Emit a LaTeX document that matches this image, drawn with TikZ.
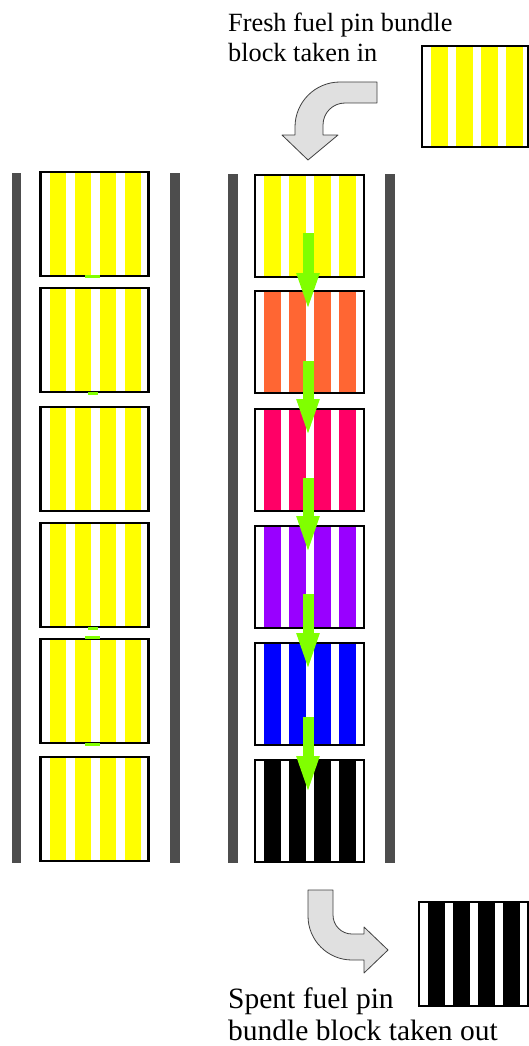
\documentclass[tikz,border=0pt]{standalone}
\usepackage{fontspec}
\setmainfont{Liberation Serif}
\usetikzlibrary{arrows.meta}
\definecolor{pinyellow}{RGB}{255,255,0}
\definecolor{pinorange}{RGB}{255,102,51}
\definecolor{pinpink}{RGB}{255,0,102}
\definecolor{pinpurple}{RGB}{153,0,255}
\definecolor{pinblue}{RGB}{0,0,255}
\definecolor{flowgreen}{RGB}{128,255,0}
\definecolor{wallgray}{RGB}{77,77,77}
\definecolor{movegray}{RGB}{224,224,224}

\begin{document}
\begin{tikzpicture}[x=1pt, y=-1pt,
  pinblock/.style={draw=black, line width=2.4pt, fill=white, inner sep=0pt,
    minimum width=109pt, minimum height=102pt,
    path picture={
      \foreach \k in {0,...,3}{
        \pgfmathsetmacro\xa{9+25*\k}
        \pgfmathsetmacro\xb{25.5+25*\k}
        \fill[#1] ([xshift=\xa pt, yshift=1.2pt]path picture bounding box.south west)
          rectangle ([xshift=\xb pt, yshift=-1.2pt]path picture bounding box.north west);
      }}},
  flowarrow/.style={draw=flowgreen, line width=11pt, -{Triangle[width=20pt, length=39pt]}},
  movearrow/.style={fill=movegray, draw=black!75, line width=0.8pt, line join=round},
  caption/.style={anchor=base west, align=left, inner sep=0pt}]
  \useasboundingbox (0,0) rectangle (529,1046);
  % Channel walls
  \fill[wallgray] (12,173) rectangle (21,863);
  \fill[wallgray] (170,173) rectangle (180,863);
  \fill[wallgray] (228,174) rectangle (238,863);
  \fill[wallgray] (385,174) rectangle (395,863);
  % Left channel: all fresh blocks
  \foreach \i/\yc in {1/224, 2/340, 3/459, 4/575, 5/691, 6/809}
    \node[pinblock=pinyellow, minimum width=108pt, minimum height=104pt] (l\i) at (94.5,\yc) {};
  \foreach \xa/\xb/\ya/\yb in {85/100/275/278, 88/98/392/395, 88/98/627/630, 85/100/636/639, 85/100/743/746}
    \fill[flowgreen] (\xa,\ya) rectangle (\xb,\yb);
  % Right channel: burn-up from top to bottom
  \foreach \i/\yc/\col in {1/226/pinyellow, 2/342/pinorange, 3/460/pinpink,
      4/577/pinpurple, 5/694/pinblue, 6/811/black}
    \node[pinblock=\col] (r\i) at (309.5,\yc) {};
  \foreach \s/\t in {233/312, 361/438, 478/555, 594/672, 717/795}
    \draw[flowarrow] (308,\s) -- (308,\t);
  % Loading
  \node[pinblock=pinyellow, minimum width=106pt, minimum height=101pt] (fresh) at (475,96.5) {};
  \node[caption, font=\fontsize{26.3}{30}\selectfont] (freshtext) at (228,62) {Fresh fuel pin bundle\\block taken in};
  \draw[movearrow] (377,82) -- (340,82) .. controls (315.1,82) and (295,102.1) .. (295,127)
    -- (295,135) -- (282,135) -- (308,160) -- (338,135) -- (323,135) -- (323,125)
    .. controls (323,112.8) and (332.8,103) .. (345,103) -- (377,103) -- cycle;
  % Unloading
  \draw[movearrow] (308,890) -- (333,890) -- (333,915) .. controls (333,925.5) and (341.5,934) .. (352,934)
    -- (364,934) -- (364,927) -- (388,950) -- (364,973) -- (364,960) -- (352,960)
    .. controls (327.7,960) and (308,940.3) .. (308,916) -- cycle;
  \node[pinblock=black, minimum height=104pt] (spent) at (473.5,954) {};
  \node[caption, font=\fontsize{29.5}{32}\selectfont] (spenttext) at (228,1040) {Spent fuel pin\\bundle block taken out};
\end{tikzpicture}
\end{document}
